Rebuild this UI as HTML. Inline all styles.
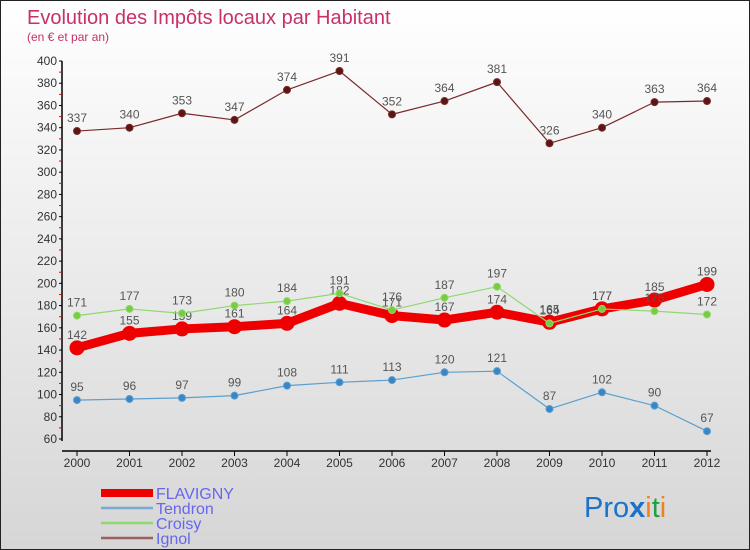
<!DOCTYPE html>
<html><head><meta charset="utf-8"><style>
body{margin:0}
#c{width:750px;height:550px;position:relative;box-sizing:border-box;border:1px solid #222;background:linear-gradient(#ffffff,#d6d6d6);font-family:"Liberation Sans","DejaVu Sans",sans-serif;overflow:hidden}
svg{position:absolute;left:0;top:0}
</style></head><body>
<div id="c">
<svg id="s" width="750" height="550">
<text x="26" y="23" font-size="20" fill="#c8306a">Evolution des Impôts locaux par Habitant</text>
<text x="26" y="40" font-size="12" fill="#c8306a">(en € et par an)</text>
<g id="axes"></g><g id="series"></g><g id="legend"></g>
<text x="583" y="516" font-size="29"><tspan fill="#1a73c8">Pro</tspan><tspan fill="#1a73c8" font-weight="bold">x</tspan><tspan fill="#f08020">i</tspan><tspan fill="#20a040">t</tspan><tspan fill="#f08020">i</tspan></text>
</svg></div>
<script>
const years=[2000,2001,2002,2003,2004,2005,2006,2007,2008,2009,2010,2011,2012];
const yTicks=[60,80,100,120,140,160,180,200,220,240,260,280,300,320,340,360,380,400];
const flavigny=[142,155,159,161,164,182,171,167,174,165,177,185,199];
const tendron=[95,96,97,99,108,111,113,120,121,87,102,90,67];
const croisy=[171,177,173,180,184,191,176,187,197,164,177,175,172];
const ignol=[337,340,353,347,374,391,352,364,381,326,340,363,364];
const NS="http://www.w3.org/2000/svg";
function X(i){return 76+i*52.5;}
function Y(v){return 438-(v-60)*(378/340);}
function mk(t,a,p){const e=document.createElementNS(NS,t);for(const k in a)e.setAttribute(k,a[k]);p.appendChild(e);return e;}
const ax=document.getElementById('axes');
let yl=mk('line',{x1:61,y1:Y(400),x2:61,y2:Y(60)+2,stroke:'#000','stroke-width':1.5},ax);


let xl=mk('line',{x1:61,y1:450,x2:710,y2:450,stroke:'#000','stroke-width':1.5},ax);


yTicks.forEach(v=>{
 mk('line',{x1:58,y1:Y(v),x2:61,y2:Y(v),stroke:'#000'},ax);
 if(v<400) mk('line',{x1:58,y1:Y(v+10),x2:61,y2:Y(v+10),stroke:'#e00'},ax);
 const t=mk('text',{x:56,y:Y(v)+4,'font-size':12,'text-anchor':'end',fill:'#333'},ax);t.textContent=v;
 
 
});
years.forEach((y,i)=>{
 mk('line',{x1:X(i),y1:450,x2:X(i),y2:455,stroke:'#000'},ax);
 const t=mk('text',{x:X(i),y:466,'font-size':12,'text-anchor':'middle',fill:'#333'},ax);t.textContent=y;
 
 
});
const sg=document.getElementById('series');
function draw(data,color,dot,w,r,name){
 const g=mk('g',{},sg);
 
 
 const p=mk('polyline',{points:data.map((v,i)=>X(i)+','+Y(v)).join(' '),fill:'none',stroke:color,'stroke-width':w,'stroke-linejoin':'round'},g);
 
 
 data.forEach((v,i)=>{
  const c=mk('circle',{cx:X(i),cy:Y(v),r:r,fill:dot,stroke:color,'stroke-width':1},g);
  
  
  const t=mk('text',{x:X(i),y:Y(v)-9,'font-size':12,'text-anchor':'middle',fill:'#555'},g);t.textContent=v;
  
  
 });
}
draw(ignol,'#7a2a2a','#5a1515',1.2,3.5,'ignol');
draw(tendron,'#5a9fd0','#3a86c4',1.2,3.5,'tendron');
draw(flavigny,'#ee0000','#ee0000',9,7,'flavigny');
draw(croisy,'#90d870','#78cc40',1.2,3.5,'croisy');
const lg=document.getElementById('legend');
const L=[['FLAVIGNY','#ee0000',8],['Tendron','#7aaad0',2.5],['Croisy','#90d870',2.5],['Ignol','#9a6060',2.5]];
L.forEach((l,i)=>{
 const y=492+i*15;
 const ln=mk('line',{x1:100,y1:y,x2:152,y2:y,stroke:l[1],'stroke-width':l[2]},lg);
 
 
 const t=mk('text',{x:155,y:y+6,'font-size':16,fill:'#6666ee'},lg);t.textContent=l[0];
 
 
});
</script>
</body></html>
